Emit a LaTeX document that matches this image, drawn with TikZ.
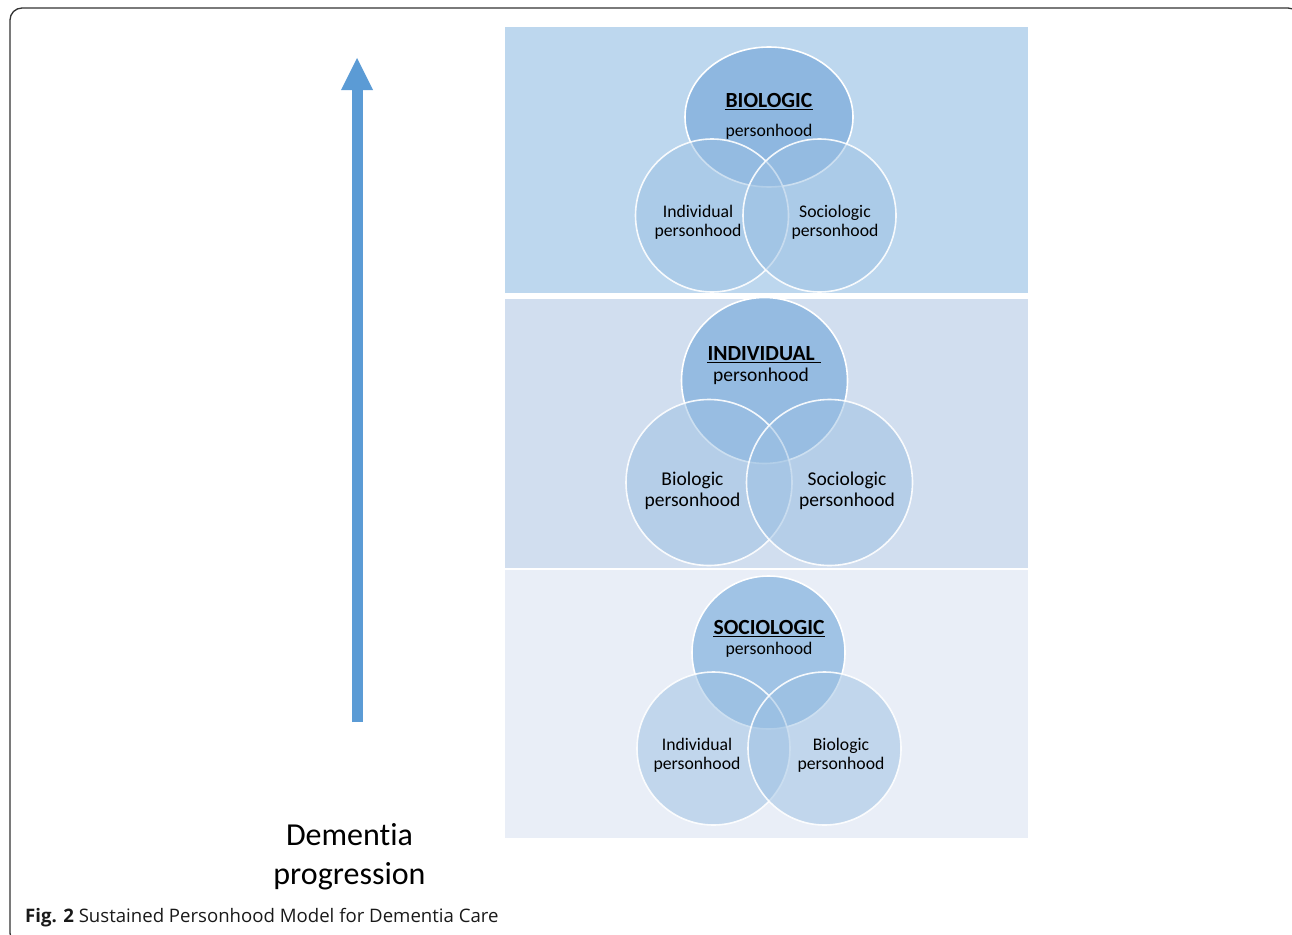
\documentclass[tikz,border=0pt]{standalone}
\usepackage{fontspec}
\setmainfont{Carlito}[Ligatures=NoCommon]
\newfontfamily\capfont{Open Sans}
\usetikzlibrary{arrows.meta,shapes.geometric}

\definecolor{panelA}{HTML}{BDD7EE}
\definecolor{panelB}{HTML}{D1DEEF}
\definecolor{panelC}{HTML}{E9EEF7}
\definecolor{topA}{HTML}{8EB7E0}
\definecolor{topB}{HTML}{95BBE1}
\definecolor{topC}{HTML}{A0C3E5}
\definecolor{lowfill}{HTML}{9BC0E3}
\definecolor{arrowblue}{HTML}{5B9BD5}

\tikzset{
  panel/.style={fill=#1, draw=none},
  topcirc/.style={circle, inner sep=0pt, fill=#1, draw=white, line width=1.6pt},
  topoval/.style={ellipse, inner sep=0pt, fill=#1, draw=white, line width=1.6pt},
  lowcirc/.style={circle, inner sep=0pt, fill=lowfill, fill opacity=0.5,
                  draw=white, draw opacity=0.9, line width=1.6pt},
  lbl/.style={anchor=base, inner sep=0pt, text=black, font=\fontsize{17.7}{21}\selectfont},
  lblB/.style={lbl, font=\fontsize{19.5}{23}\selectfont},
  ttl/.style={anchor=base, inner sep=0pt, text=black, font=\fontsize{21.6}{26}\selectfont\bfseries},
  uline/.style={black, line width=1.8pt},
  bigtext/.style={anchor=base, inner sep=0pt, text=black, font=\fontsize{32}{39}\selectfont},
}

\begin{document}
\begin{tikzpicture}[x=1pt, y=-1pt]
\useasboundingbox (0,0) rectangle (1292,934);

% outer frame, partly running off the page
\begin{scope}
  \clip (0,0) rectangle (1292,934);
  \draw[black!80, line width=1.3pt, rounded corners=12pt] (10,8) rectangle (1300,945);
\end{scope}

% progression arrow
\coordinate (arrowfoot) at (357,722);
\coordinate (arrowtip) at (357,58);
\draw[arrowblue, line width=11pt,
      -{Triangle[width=32pt, length=32pt, line width=0pt]}] (arrowfoot) -- (arrowtip);

\node[bigtext] (prog1) at (349.5,845) {Dementia};
\node[bigtext] (prog2) at (349.5,884) {progression};

% three stacked panels
\fill[panel=panelA] (505,27) rectangle (1028,293);
\fill[panel=panelB] (505,299) rectangle (1028,568);
\fill[panel=panelC] (505,570) rectangle (1028,838);

% --- panel 1: biologic personhood on top
\node[topoval=topA, minimum width=168pt, minimum height=140pt] (bioTop) at (769,117) {};
\node[lowcirc, minimum size=153pt] (bioLeft) at (712,215.5) {};
\node[lowcirc, minimum size=153pt] (bioRight) at (819.5,215.5) {};

\node[ttl] (bioTitle) at (769,107) {BIOLOGIC};
\draw[uline] ([yshift=-2.5pt]bioTitle.base west) -- ([yshift=-2.5pt]bioTitle.base east);
\node[lbl] (bioSub) at (769,136) {personhood};
\node[lbl] (bioLa) at (698,217) {Individual};
\node[lbl] (bioLb) at (698,236) {personhood};
\node[lbl] (bioRa) at (835,217) {Sociologic};
\node[lbl] (bioRb) at (835,236) {personhood};

% --- panel 2: individual personhood on top
\node[topcirc=topB, minimum size=166pt] (indTop) at (764.5,380.5) {};
\node[lowcirc, minimum size=166pt] (indLeft) at (709,482.5) {};
\node[lowcirc, minimum size=166pt] (indRight) at (829.5,482.5) {};

\node[ttl] (indTitle) at (764,360) {INDIVIDUAL\kern0.26em};
\draw[uline] ([yshift=-2.5pt]indTitle.base west) -- ([yshift=-2.5pt]indTitle.base east);
\node[lblB] (indSub) at (761,381) {personhood};
\node[lblB] (indLa) at (692.5,485) {Biologic};
\node[lblB] (indLb) at (692.5,506) {personhood};
\node[lblB] (indRa) at (847,485) {Sociologic};
\node[lblB] (indRb) at (847,506) {personhood};

% --- panel 3: sociologic personhood on top
\node[topcirc=topC, minimum size=153pt] (socTop) at (768.5,652.5) {};
\node[lowcirc, minimum size=153pt] (socLeft) at (713.5,748.5) {};
\node[lowcirc, minimum size=153pt] (socRight) at (824.5,748.5) {};

\node[ttl] (socTitle) at (769,634) {SOCIOLOGIC};
\draw[uline] ([yshift=-2.5pt]socTitle.base west) -- ([yshift=-2.5pt]socTitle.base east);
\node[lbl] (socSub) at (769,654) {personhood};
\node[lbl] (socLa) at (697,750) {Individual};
\node[lbl] (socLb) at (697,769) {personhood};
\node[lbl] (socRa) at (841,750) {Biologic};
\node[lbl] (socRb) at (841,769) {personhood};

% caption
\node[anchor=base west, inner sep=0pt, text=black!90,
      font=\capfont\fontsize{18.6}{22}\selectfont] (caption) at (25,922)
  {\textbf{Fig. 2} Sustained Personhood Model for Dementia Care};
\end{tikzpicture}
\end{document}
